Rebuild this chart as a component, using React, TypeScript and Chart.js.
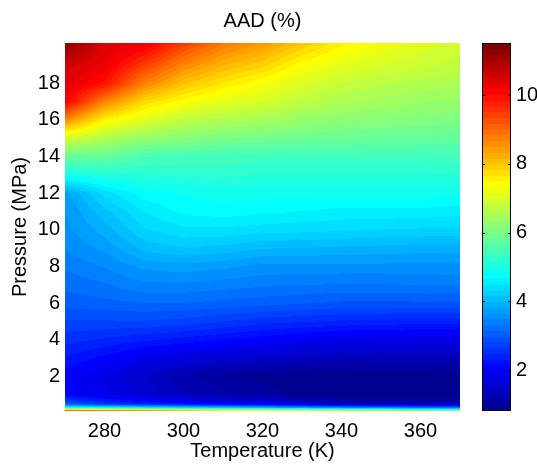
import React, { useEffect, useRef } from "react";
import { Chart, registerables } from "chart.js";

Chart.register(...registerables);

// Grid of AAD (%) values: one array per temperature column, values listed by PRESSURES
const TEMPERATURES = [270, 280, 290, 300, 310, 320, 330, 340, 350, 360, 370];
const PRESSURES = [0.1, 0.3, 0.5, 1, 2, 3, 4, 5, 6, 7, 8, 9, 10, 11, 12, 13, 14, 15, 16, 17, 18, 19, 20.2];

const AAD_270 = [10.3, 5.0, 3.0, 2.05, 2.05, 2.3, 2.55, 2.8, 3.05, 3.2, 3.35, 3.5, 3.6, 3.65, 3.75, 4.95, 5.8, 6.96, 8.65, 10.2, 10.4, 10.6, 11.3];
const AAD_280 = [10.0, 4.8, 2.6, 1.85, 1.8, 2.1, 2.45, 2.8, 3.1, 3.3, 3.5, 3.7, 3.9, 4.1, 4.4, 5.1, 5.8, 6.6, 7.5, 8.7, 9.95, 10.3, 10.5];
const AAD_290 = [9.6, 4.6, 2.4, 1.6, 1.5, 1.85, 2.35, 2.8, 3.15, 3.45, 3.7, 4.05, 4.3, 4.5, 4.75, 5.15, 5.5, 6.3, 7.1, 7.8, 8.75, 9.5, 10.3];
const AAD_300 = [9.0, 4.4, 2.2, 1.35, 1.2, 1.7, 2.25, 2.75, 3.15, 3.45, 3.75, 4.15, 4.45, 4.7, 4.85, 5.2, 5.45, 6.17, 6.75, 7.4, 8.05, 8.7, 9.5];
const AAD_310 = [8.5, 4.2, 2.0, 1.2, 1.0, 1.6, 2.15, 2.65, 3.1, 3.4, 3.7, 4.1, 4.45, 4.75, 4.9, 5.2, 5.45, 6.0, 6.6, 7.15, 7.65, 8.2, 8.85];
const AAD_320 = [8.2, 4.0, 1.9, 1.1, 0.9, 1.5, 2.05, 2.55, 3.05, 3.35, 3.6, 4.0, 4.4, 4.7, 4.9, 5.15, 5.4, 5.95, 6.5, 7.0, 7.35, 7.9, 8.5];
const AAD_330 = [7.9, 3.8, 1.6, 0.9, 0.87, 1.4, 1.95, 2.5, 3.0, 3.33, 3.6, 3.98, 4.38, 4.65, 4.9, 5.15, 5.4, 5.9, 6.3, 6.75, 7.05, 7.4, 8.0];
const AAD_340 = [7.6, 3.6, 1.4, 0.82, 0.85, 1.35, 1.85, 2.45, 2.95, 3.3, 3.6, 3.95, 4.35, 4.6, 4.9, 5.15, 5.4, 5.85, 6.2, 6.55, 6.83, 7.15, 7.55];
const AAD_350 = [7.3, 3.5, 1.3, 0.8, 0.85, 1.32, 1.82, 2.42, 2.95, 3.3, 3.6, 3.93, 4.32, 4.6, 4.9, 5.15, 5.4, 5.8, 6.15, 6.45, 6.7, 7.0, 7.3];
const AAD_360 = [7.1, 3.4, 1.3, 0.8, 0.87, 1.3, 1.8, 2.4, 2.95, 3.33, 3.6, 3.9, 4.3, 4.6, 4.9, 5.15, 5.4, 5.8, 6.1, 6.35, 6.6, 6.9, 7.1];
const AAD_370 = [6.9, 3.3, 1.3, 0.82, 0.9, 1.3, 1.8, 2.4, 2.95, 3.35, 3.6, 3.9, 4.3, 4.55, 4.9, 5.15, 5.45, 5.75, 6.05, 6.3, 6.55, 6.75, 6.95];

const AAD_COLUMNS = [AAD_270, AAD_280, AAD_290, AAD_300, AAD_310, AAD_320, AAD_330, AAD_340, AAD_350, AAD_360, AAD_370];

const X_TICKS = [280, 300, 320, 340, 360];
const Y_TICKS = [2, 4, 6, 8, 10, 12, 14, 16, 18];
const CBAR_TICKS = [2, 4, 6, 8, 10];
const CBAR_RANGE = [0.81, 11.52];
const X_RANGE = [270, 370];
const Y_RANGE = [0.12, 20.2];

const TITLE = "AAD (%)";
const X_LABEL = "Temperature (K)";
const Y_LABEL = "Pressure (MPa)";

const FONT = "'Liberation Sans', Arial, Helvetica, sans-serif";

// MATLAB jet(64)
function jet64(idx: number): [number, number, number] {
  const i = idx + 1; // 1-based
  const u = (k: number) => (k <= 16 ? k / 16 : k <= 31 ? 1 : (48 - k) / 16);
  const g = i >= 9 && i <= 55 ? u(i - 8) : 0;
  const r = i >= 25 ? u(i - 24) : 0;
  const b = i <= 39 ? u(i + 8) : 0;
  return [Math.round(r * 255), Math.round(g * 255), Math.round(b * 255)];
}

function levelOf(v: number) {
  const t = (v - CBAR_RANGE[0]) / (CBAR_RANGE[1] - CBAR_RANGE[0]);
  return Math.max(0, Math.min(63, Math.floor(t * 64)));
}

function bracket(arr: number[], v: number) {
  let i = 0;
  while (i < arr.length - 2 && v > arr[i + 1]) i++;
  let f = (v - arr[i]) / (arr[i + 1] - arr[i]);
  f = Math.max(0, Math.min(1, f));
  return [i, f];
}

const heatmapPlugin = {
  id: "aadHeatmap",
  beforeDatasetsDraw(chart: any) {
    const { ctx, chartArea: a, scales } = chart;
    const xs = scales.x;
    const ys = scales.y;
    const x0 = Math.round(a.left);
    const x1 = Math.round(a.right);
    const y0 = Math.round(a.top);
    const y1 = Math.round(a.bottom);
    const w = x1 - x0;
    const h = y1 - y0;
    const img = ctx.createImageData(w, h);
    const colX: [number, number][] = [];
    for (let px = 0; px < w; px++) {
      const T = xs.getValueForPixel(x0 + px + 0.5);
      colX.push(bracket(TEMPERATURES, T) as [number, number]);
    }
    for (let py = 0; py < h; py++) {
      const P = ys.getValueForPixel(y0 + py + 0.5);
      const [j, fy] = bracket(PRESSURES, P);
      for (let px = 0; px < w; px++) {
        const [i, fx] = colX[px];
        const c0 = AAD_COLUMNS[i];
        const c1 = AAD_COLUMNS[i + 1];
        const v00 = c0[j], v01 = c0[j + 1], v10 = c1[j], v11 = c1[j + 1];
        const v =
          v00 * (1 - fx) * (1 - fy) + v10 * fx * (1 - fy) + v01 * (1 - fx) * fy + v11 * fx * fy;
        const [r, g, b] = jet64(levelOf(v));
        const k = (py * w + px) * 4;
        img.data[k] = r;
        img.data[k + 1] = g;
        img.data[k + 2] = b;
        img.data[k + 3] = 255;
      }
    }
    const off = document.createElement("canvas");
    off.width = w;
    off.height = h;
    off.getContext("2d")!.putImageData(img, 0, 0);
    ctx.save();
    ctx.drawImage(off, x0, y0);
    ctx.restore();

    // colour bar, drawn on the right-hand colour scale
    const cs = scales.c;
    const bx0 = Math.round(cs.left + 22);
    const bx1 = Math.round(cs.left + 51);
    const step = (CBAR_RANGE[1] - CBAR_RANGE[0]) / 64;
    ctx.save();
    for (let k = 0; k < 64; k++) {
      const yTop = cs.getPixelForValue(CBAR_RANGE[0] + (k + 1) * step);
      const yBot = cs.getPixelForValue(CBAR_RANGE[0] + k * step);
      const [r, g, b] = jet64(k);
      ctx.fillStyle = `rgb(${r},${g},${b})`;
      ctx.fillRect(bx0, Math.floor(yTop), bx1 - bx0, Math.ceil(yBot) - Math.floor(yTop));
    }
    ctx.strokeStyle = "#000";
    ctx.lineWidth = 1;
    ctx.strokeRect(bx0 + 0.5, Math.round(cs.top) + 0.5, bx1 - bx0 - 1, Math.round(cs.bottom) - Math.round(cs.top) - 1);
    ctx.beginPath();
    for (const t of CBAR_TICKS) {
      const y = Math.round(cs.getPixelForValue(t)) + 0.5;
      ctx.moveTo(bx0, y);
      ctx.lineTo(bx0 + 3, y);
      ctx.moveTo(bx1 - 3, y);
      ctx.lineTo(bx1, y);
    }
    ctx.stroke();
    ctx.restore();
  },
};

export default function App() {
  const ref = useRef<HTMLCanvasElement | null>(null);
  useEffect(() => {
    if (!ref.current) return;
    const tickFont = { family: FONT, size: 20 };
    const chart = new Chart(ref.current, {
      type: "scatter",
      data: { datasets: [{ data: [], pointRadius: 0 }] },
      options: {
        responsive: false,
        animation: false,
        devicePixelRatio: 1,
        layout: { padding: 0 },
        plugins: {
          legend: { display: false },
          tooltip: { enabled: false },
          title: {
            display: true,
            text: TITLE,
            fullSize: false,
            color: "#000",
            font: { family: FONT, size: 20, weight: "normal" },
            padding: { top: 9, bottom: 10 },
          },
        },
        scales: {
          x: {
            type: "linear",
            position: "bottom",
            min: X_RANGE[0],
            max: X_RANGE[1],
            afterBuildTicks: (s: any) => {
              s.ticks = X_TICKS.map((v) => ({ value: v }));
            },
            afterFit: (s: any) => {
              s.height = 53;
            },
            grid: { display: false, drawTicks: false },
            border: { display: false },
            ticks: { color: "#000", font: tickFont, padding: 8, maxRotation: 0 },
            title: { display: true, text: X_LABEL, color: "#000", font: tickFont, padding: 1 },
          },
          y: {
            type: "linear",
            position: "left",
            min: Y_RANGE[0],
            max: Y_RANGE[1],
            afterBuildTicks: (s: any) => {
              s.ticks = Y_TICKS.map((v) => ({ value: v }));
            },
            afterFit: (s: any) => {
              s.width = 65;
            },
            grid: { display: false, drawTicks: false },
            border: { display: false },
            ticks: { color: "#000", font: tickFont, padding: 5 },
            title: { display: true, text: Y_LABEL, color: "#000", font: tickFont, padding: 8 },
          },
          c: {
            type: "linear",
            position: "right",
            min: CBAR_RANGE[0],
            max: CBAR_RANGE[1],
            afterBuildTicks: (s: any) => {
              s.ticks = CBAR_TICKS.map((v) => ({ value: v }));
            },
            afterFit: (s: any) => {
              s.width = 77;
            },
            grid: { display: false, drawTicks: true, tickLength: 51 },
            border: { display: false },
            ticks: { color: "#000", font: tickFont, padding: 5 },
          },
        },
      },
      plugins: [heatmapPlugin],
    } as any);
    return () => chart.destroy();
  }, []);
  return (
    <div style={{ position: "absolute", left: 0, top: 0, width: 537, height: 464, background: "#fff" }}>
      <canvas ref={ref} width={537} height={464} />
    </div>
  );
}
